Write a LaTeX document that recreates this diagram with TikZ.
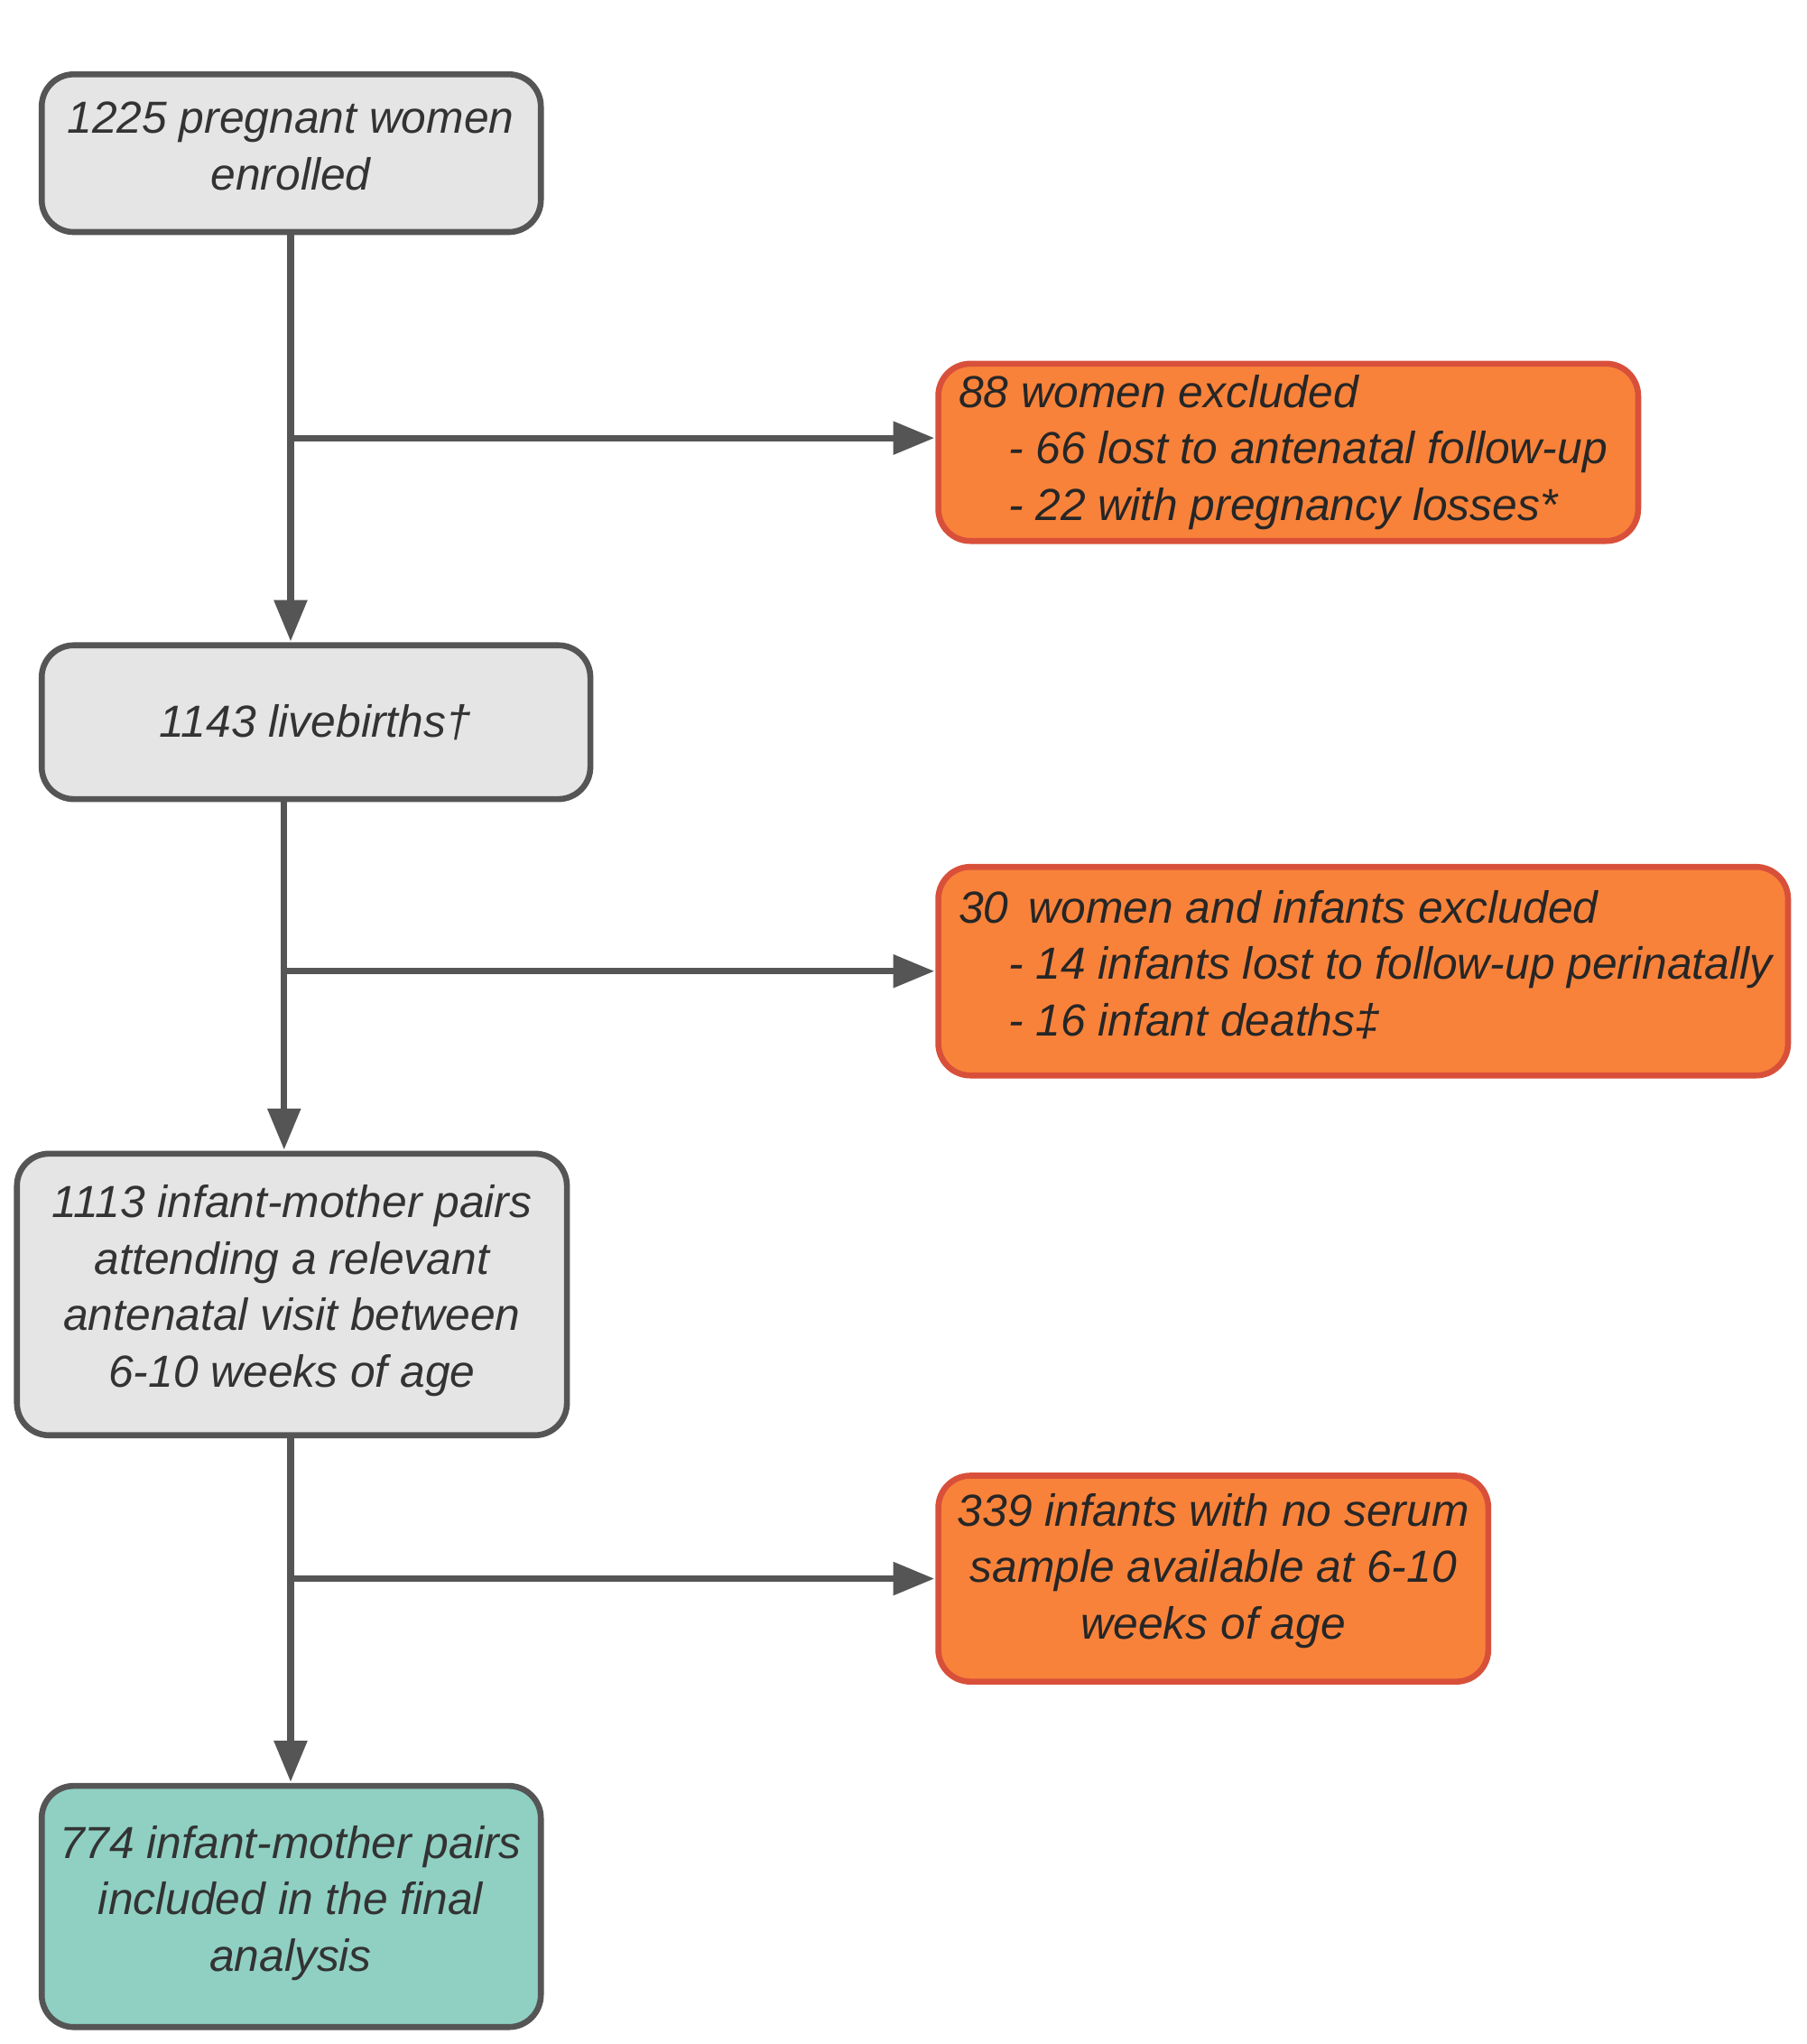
\documentclass[tikz,border=0pt]{standalone}
\usepackage{fontspec}
\setmainfont{Liberation Sans}
\usetikzlibrary{arrows.meta}
\definecolor{gbox}{HTML}{E5E5E5}
\definecolor{gline}{HTML}{555555}
\definecolor{obox}{HTML}{F8823A}
\definecolor{oline}{HTML}{D9503A}
\definecolor{tbox}{HTML}{8FD0C3}
\definecolor{txt}{HTML}{333333}
\begin{document}
\begin{tikzpicture}[x=0.01cm,y=-0.01cm,
  fnt/.style={font=\itshape\fontsize{9.8}{12.3}\selectfont},
  box/.style={draw=gline,line width=1.3pt,rounded corners=7pt,fill=gbox},
  ex/.style={draw=oline,line width=1.3pt,rounded corners=7pt,fill=obox},
  ln/.style={draw=gline,line width=1.4pt},
  ar/.style={ln,-{Triangle[length=9pt,width=7pt]}}]
\useasboundingbox (0,0) rectangle (1386,1568);
\draw[box] (32,57) rectangle (415,178);
\node[txt,fnt,align=center] (A) at (223,112) {1225 pregnant women\\enrolled};
\draw[box] (32,495) rectangle (453,613);
\node[txt,fnt] (B) at (242,554) {1143 livebirths\textdagger};
\draw[box] (13,885) rectangle (435,1101);
\node[txt,fnt,align=center] (C) at (224,990) {1113 infant-mother pairs\\attending a relevant\\antenatal visit between\\6-10 weeks of age};
\draw[box,fill=tbox] (32,1370) rectangle (415,1555);
\node[txt,fnt,align=center] (D) at (223,1460) {774 infant-mother pairs\\included in the final\\analysis};
\draw[ex] (720,279) rectangle (1257,415);
\node[fnt,text=black!85,align=left,anchor=west,inner sep=2pt] (E1) at (728,347) {88 women excluded\\\hspace{1.1em}- 66 lost to antenatal follow-up\\\hspace{1.1em}- 22 with pregnancy losses*};
\draw[ex] (720,665) rectangle (1372,825);
\node[fnt,text=black!85,align=left,anchor=west,inner sep=2pt] (E2) at (728,740) {30\, women and infants excluded\\\hspace{1.1em}- 14 infants lost to follow-up perinatally\\\hspace{1.1em}- 16 infant deaths\textdaggerdbl};
\draw[ex] (720,1132) rectangle (1142,1290);
\node[fnt,text=black!85,align=center] (E3) at (931,1205) {339 infants with no serum\\sample available at 6-10\\weeks of age};
\coordinate (p1) at (223,178); \coordinate (q1) at (223,492);
\coordinate (b1) at (223,336); \coordinate (e1) at (717,336);
\coordinate (p2) at (218,613); \coordinate (q2) at (218,882);
\coordinate (b2) at (218,745); \coordinate (e2) at (717,745);
\coordinate (p3) at (223,1101); \coordinate (q3) at (223,1367);
\coordinate (b3) at (223,1211); \coordinate (e3) at (717,1211);
\draw[ar] (p1) -- (q1); \draw[ar] (b1) -- (e1);
\draw[ar] (p2) -- (q2); \draw[ar] (b2) -- (e2);
\draw[ar] (p3) -- (q3); \draw[ar] (b3) -- (e3);
\end{tikzpicture}
\end{document}
